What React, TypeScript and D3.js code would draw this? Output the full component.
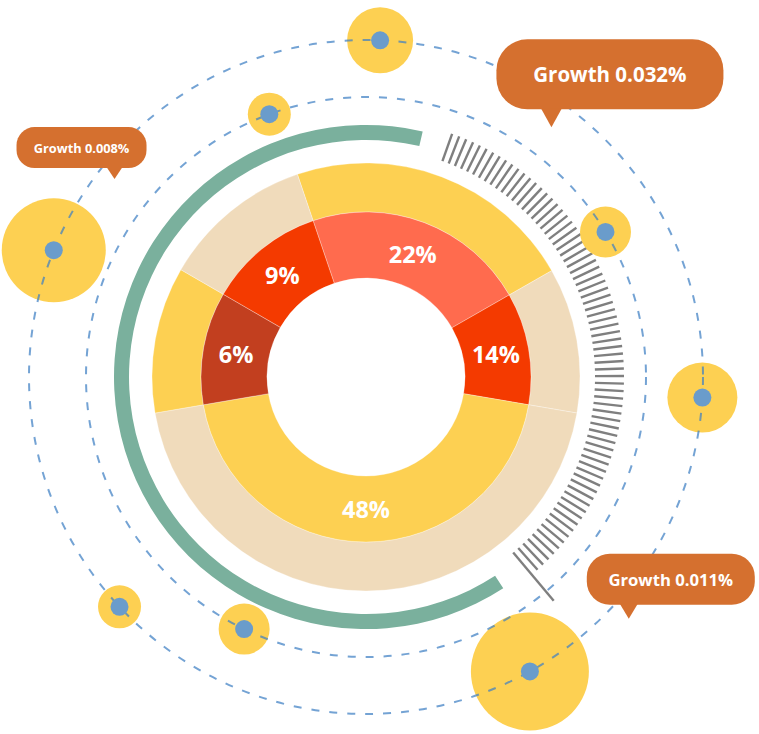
import React from 'react';
import * as d3 from 'd3';

const W = 759;
const H = 734;
const CX = 366;
const CY = 377;

// inner ring: shown labels and the slice spans (degrees)
const innerLabels = ['22%', '14%', '48%', '6%', '9%'];
const innerSpans = [78.9, 39.5, 160.6, 39.8, 41.2];
const pieStart = -18.7;

// bubbles sitting on the two dashed orbits (angle in degrees from 12 o'clock)
const bubbleAngles = [2.4, 93.5, 150.9, 227, 292.1, 339.8, 58.8, 205.8];
const bubbleOrbits = ['outer', 'outer', 'outer', 'outer', 'outer', 'inner', 'inner', 'inner'];
const bubbleSizes = [33, 35, 59, 21.5, 52, 21.5, 25.5, 25.5];

// growth callouts, pointer tip in polar coords
const calloutTexts = ['Growth 0.032%', 'Growth 0.008%', 'Growth 0.011%'];
const calloutAngles = [36.6, 308.2, 132.6];
const calloutRadii = [311, 320, 357];

// green progress arc and gray tick band (degrees)
const progressRange = [147, 373];
const tickRange = [19.5, 140];
const tickIntervals = 72;

const innerColors = ['#FF6B4E', '#F43A00', '#FDD052', '#C23F1F', '#F43A00'];
const outerColors = ['#FDD052', '#F0DBBB', '#F0DBBB', '#FDD052', '#F0DBBB'];
const calloutStyle = [
  { w: 227, h: 70, rx: 31, fs: 20.5, px: 55, ph: 18, pw: 21 },
  { w: 130, h: 41, rx: 18, fs: 12.8, px: 98, ph: 11, pw: 16 },
  { w: 168, h: 51, rx: 23, fs: 16.7, px: 42, ph: 14, pw: 18 },
];

const FONT = '"Open Sans", "Noto Sans", sans-serif';

const rad = d3.scaleLinear().domain([0, 360]).range([0, 2 * Math.PI]);
const orbitRadius = d3.scaleOrdinal<string, number>().domain(['inner', 'outer']).range([280, 337]);

const polar = (deg: number, r: number): [number, number] => [
  CX + r * Math.sin(rad(deg)),
  CY - r * Math.cos(rad(deg)),
];

const App = () => {
  const pie = d3.pie<number>().sort(null).value(d => d)
    .startAngle(rad(pieStart)).endAngle(rad(pieStart + 360));
  const slices = pie(innerSpans);

  const innerArc = d3.arc<d3.PieArcDatum<number>>().innerRadius(99).outerRadius(165);
  const outerArc = d3.arc<d3.PieArcDatum<number>>().innerRadius(165).outerRadius(214);
  const labelArc = d3.arc<d3.PieArcDatum<number>>().innerRadius(132).outerRadius(132);

  const greenArc = d3.arc()({
    innerRadius: 237,
    outerRadius: 252,
    startAngle: rad(progressRange[0]),
    endAngle: rad(progressRange[1]),
  } as any);

  const tickAngles = d3.range(tickIntervals + 1).map(i =>
    tickRange[0] + (i * (tickRange[1] - tickRange[0])) / tickIntervals);

  return (
    <svg width={W} height={H} style={{ position: 'absolute', left: 0, top: 0, background: '#fff' }}>
      <g transform={`translate(${CX},${CY})`}>
        {slices.map((s, i) => (
          <path key={'o' + i} d={outerArc(s) || ''} fill={outerColors[i]}
            stroke="#fff" strokeOpacity={0.5} strokeWidth={0.6} />
        ))}
        {slices.map((s, i) => (
          <path key={'i' + i} d={innerArc(s) || ''} fill={innerColors[i]}
            stroke="#fff" strokeOpacity={0.5} strokeWidth={0.6} />
        ))}
        {slices.map((s, i) => {
          const [x, y] = labelArc.centroid(s);
          return (
            <text key={'l' + i} x={x} y={y} textAnchor="middle" dominantBaseline="central"
              fill="#fff" fontFamily={FONT} fontWeight={700} fontSize={23.5}>
              {innerLabels[i]}
            </text>
          );
        })}
        <path d={greenArc || ''} fill="#7AB09D" />
      </g>

      {tickAngles.map((a, i) => {
        const last = i === tickAngles.length - 1;
        const [x1, y1] = polar(a, 229);
        const [x2, y2] = polar(a, last ? 292 : 258);
        return <line key={'t' + i} x1={x1} y1={y1} x2={x2} y2={y2}
          stroke="#7f7f7f" strokeWidth={2.4} />;
      })}

      {bubbleAngles.map((a, i) => {
        const [x, y] = polar(a, orbitRadius(bubbleOrbits[i]));
        return <circle key={'b' + i} cx={x} cy={y} r={bubbleSizes[i]} fill="#FDD052" />;
      })}

      {['inner', 'outer'].map(o => (
        <circle key={o} cx={CX} cy={CY} r={orbitRadius(o)} fill="none"
          stroke="#3F80C4" strokeOpacity={0.72} strokeWidth={2} strokeDasharray="8 10" />
      ))}

      {bubbleAngles.map((a, i) => {
        const [x, y] = polar(a, orbitRadius(bubbleOrbits[i]));
        return <circle key={'d' + i} cx={x} cy={y} r={9} fill="#6A9CCB" />;
      })}

      {calloutTexts.map((t, i) => {
        const st = calloutStyle[i];
        const [tx, ty] = polar(calloutAngles[i], calloutRadii[i]);
        const left = tx - st.px;
        const top = ty - st.ph - st.h;
        return (
          <g key={'c' + i}>
            <rect x={left} y={top} width={st.w} height={st.h} rx={st.rx} fill="#D5702F" />
            <path d={`M${tx - st.pw / 2},${top + st.h - 1}L${tx + st.pw / 2},${top + st.h - 1}L${tx},${ty}Z`}
              fill="#D5702F" />
            <text x={left + st.w / 2} y={top + st.h / 2} textAnchor="middle" dominantBaseline="central"
              fill="#fff" fontFamily={FONT} fontWeight={700} fontSize={st.fs}>
              {t}
            </text>
          </g>
        );
      })}
    </svg>
  );
};

export default App;
